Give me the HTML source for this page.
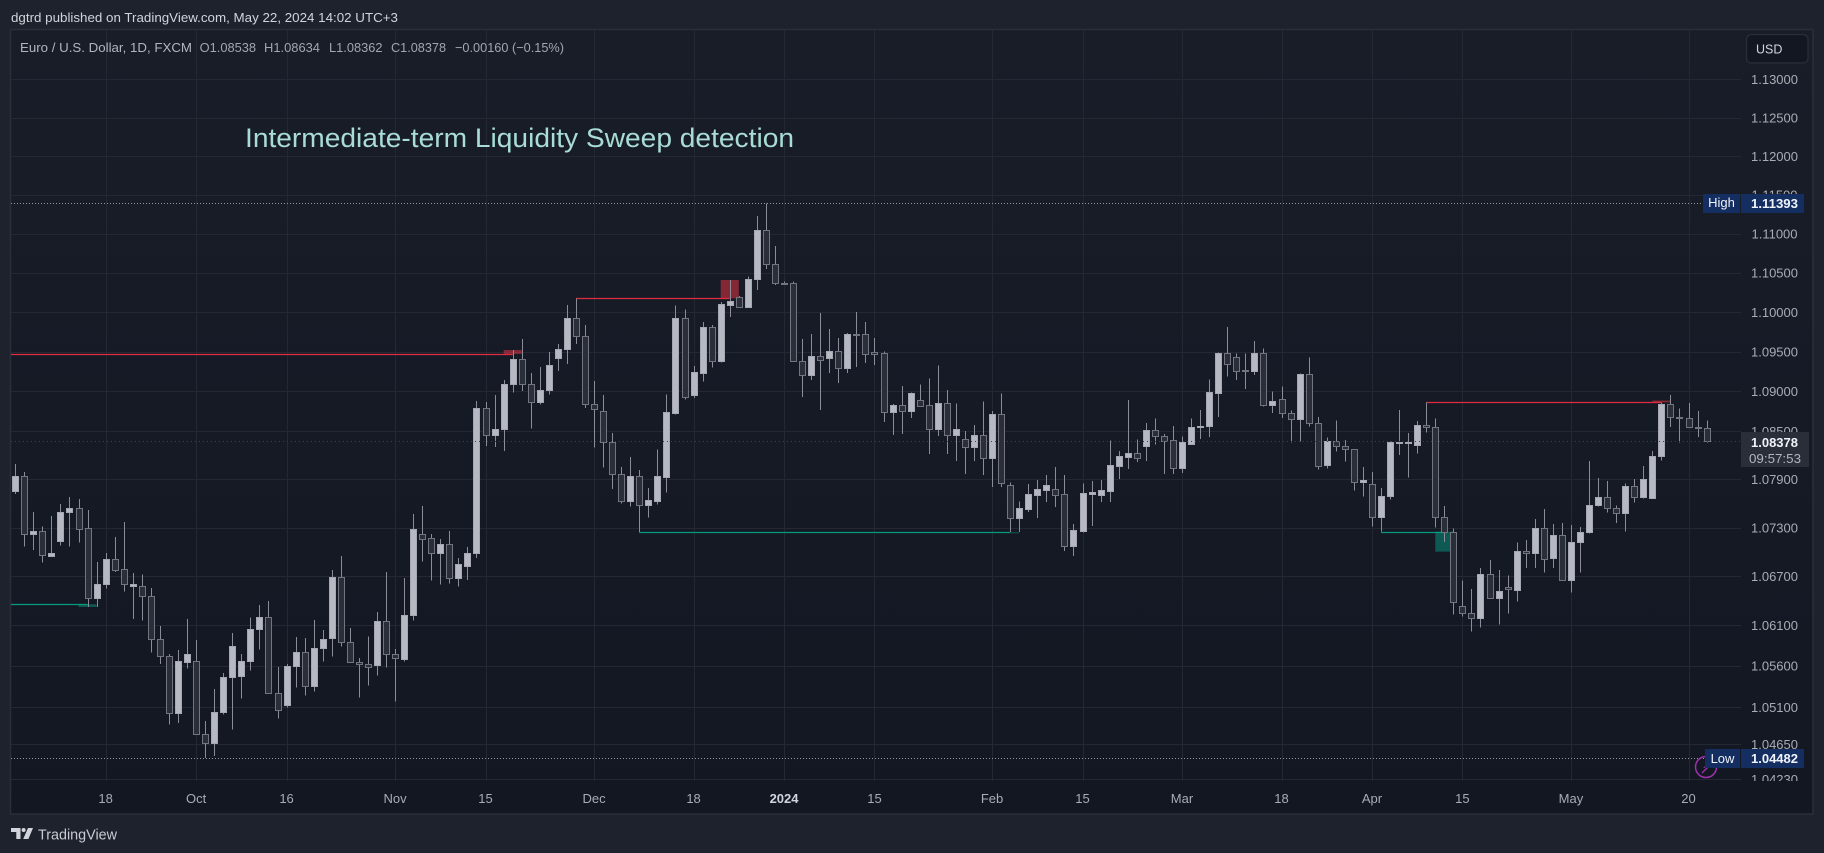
<!DOCTYPE html>
<html lang="en">
<head>
<meta charset="utf-8">
<title>EURUSD 1D - Intermediate-term Liquidity Sweep detection</title>
<style>
html,body{margin:0;padding:0;background:#1e222d;width:1824px;height:853px;overflow:hidden}
svg{display:block}
text{font-family:"Liberation Sans",sans-serif}
</style>
</head>
<body>
<svg id="chart" xmlns="http://www.w3.org/2000/svg" width="1824" height="853" viewBox="0 0 1824 853">
  <defs>
    <linearGradient id="paneBg" x1="0" y1="0" x2="0" y2="1">
      <stop offset="0" stop-color="#191d28"/>
      <stop offset="1" stop-color="#131722"/>
    </linearGradient>
    <clipPath id="paneClip"><rect x="11" y="30" width="1730" height="751"/></clipPath>
    <clipPath id="axisClip"><rect x="1741" y="30" width="72" height="751"/></clipPath>
  </defs>
  <rect x="0" y="0" width="1824" height="853" fill="#1e222d"/>
  <text x="11" y="22" font-size="13" fill="#d1d4dc" textLength="387" lengthAdjust="spacingAndGlyphs">dgtrd published on TradingView.com, May 22, 2024 14:02 UTC+3</text>
  <rect x="10.5" y="29.5" width="1802.5" height="784.5" fill="url(#paneBg)" stroke="#2a2e39" stroke-width="1.5"/>
  <g id="grid" clip-path="url(#paneClip)"></g>
  <g id="zones" clip-path="url(#paneClip)"></g>
  <g id="levels" clip-path="url(#paneClip)"></g>
  <g id="candles" clip-path="url(#paneClip)"></g>
  <g id="priceLines"></g>
  <g id="yAxis" clip-path="url(#axisClip)"></g>
  <g id="xAxis"></g>

  <g font-size="13">
    <text x="20" y="52" fill="#b2b5be" textLength="172" lengthAdjust="spacingAndGlyphs">Euro / U.S. Dollar, 1D, FXCM</text>
    <text x="199.6" y="52" fill="#a3a6af" textLength="56.5" lengthAdjust="spacingAndGlyphs">O1.08538</text>
    <text x="264" y="52" fill="#a3a6af" textLength="56" lengthAdjust="spacingAndGlyphs">H1.08634</text>
    <text x="329" y="52" fill="#a3a6af" textLength="53.5" lengthAdjust="spacingAndGlyphs">L1.08362</text>
    <text x="391" y="52" fill="#a3a6af" textLength="55" lengthAdjust="spacingAndGlyphs">C1.08378</text>
    <text x="455" y="52" fill="#a3a6af" textLength="109" lengthAdjust="spacingAndGlyphs">−0.00160 (−0.15%)</text>
  </g>

  <text x="245" y="147" font-size="26.5" fill="#a8dcd5" textLength="549" lengthAdjust="spacingAndGlyphs">Intermediate-term Liquidity Sweep detection</text>

  <g>
    <rect x="1746.5" y="34.5" width="61.5" height="28.5" rx="5" fill="#131722" stroke="#2a2e39" stroke-width="1.2"/>
    <text x="1756" y="53.5" font-size="12.5" fill="#d1d4dc">USD</text>
  </g>

  <g fill="none" stroke="#a030b0">
    <circle cx="1706" cy="767" r="10.5" stroke-width="1.5"/>
    <path d="M1710 763 L1705 767 L1708 767 L1702 773" stroke-width="1.4"/>
  </g>

  <g>
    <rect x="1703" y="194" width="37" height="19" fill="#142e61"/>
    <text x="1721.5" y="207" font-size="13" fill="#f0f3fa" text-anchor="middle">High</text>
    <rect x="1741" y="194" width="63" height="19" fill="#142e61"/>
    <text x="1774.5" y="208" font-size="13" font-weight="bold" fill="#f0f3fa" text-anchor="middle" textLength="47" lengthAdjust="spacingAndGlyphs">1.11393</text>
  </g>
  <g>
    <rect x="1705" y="749" width="35" height="19" fill="#142e61"/>
    <text x="1722.5" y="763" font-size="13" fill="#f0f3fa" text-anchor="middle">Low</text>
    <rect x="1741" y="749" width="63" height="19" fill="#142e61"/>
    <text x="1774.5" y="763" font-size="13" font-weight="bold" fill="#f0f3fa" text-anchor="middle" textLength="47" lengthAdjust="spacingAndGlyphs">1.04482</text>
  </g>
  <g>
    <rect x="1741" y="432" width="68" height="35" fill="#2a2e39"/>
    <text x="1774.5" y="447" font-size="13" font-weight="bold" fill="#f0f3fa" text-anchor="middle" textLength="47" lengthAdjust="spacingAndGlyphs">1.08378</text>
    <text x="1775" y="463" font-size="13" fill="#b2b5be" text-anchor="middle" textLength="52" lengthAdjust="spacingAndGlyphs">09:57:53</text>
  </g>

  <g>
    <path fill="#d1d4dc" d="M11 828h9.5v11h-4.2v-7H11z"/>
    <circle cx="23.6" cy="830" r="2" fill="#d1d4dc"/>
    <path fill="#d1d4dc" d="M28 828h5l-4.6 11h-5.2z"/>
    <text x="38" y="839.5" font-size="15" fill="#c8cbd3" textLength="79" lengthAdjust="spacingAndGlyphs">TradingView</text>
  </g>
</svg>
<script>
// --- Data -------------------------------------------------------------
const opens = [1.07759,1.07938,1.07218,1.07262,1.06954,1.07139,1.07498,1.07540,1.07292,1.06429,
1.06601,1.06910,1.06787,1.06576,1.06576,1.06453,1.05926,1.05719,1.05026,1.05653,
1.05658,1.04772,1.04663,1.05038,1.05464,1.05483,1.05658,1.06050,1.06196,1.05276,
1.05130,1.05597,1.05768,1.05362,1.05817,1.05946,1.06688,1.05890,1.05653,1.05622,
1.05617,1.06147,1.05743,1.05690,1.06221,1.07218,1.07169,1.06991,1.07094,1.06675,
1.06831,1.06983,1.08788,1.08458,1.08526,1.09090,1.09405,1.09098,1.08871,1.09014,
1.09425,1.09531,1.09924,1.09696,1.08846,1.08751,1.08362,1.07963,1.07634,1.07938,
1.07585,1.07634,1.07933,1.08733,1.09924,1.08959,1.09236,1.09810,1.09387,1.10097,
1.10190,1.10071,1.10420,1.11047,1.10611,1.10377,1.10369,1.09387,1.09211,1.09442,
1.09425,1.09506,1.09299,1.09725,1.09721,1.09493,1.09480,1.08746,1.08826,1.08758,
1.08888,1.08826,1.08533,1.08851,1.08458,1.08400,1.08307,1.08450,1.08170,1.08713,
1.07826,1.07424,1.07536,1.07710,1.07773,1.07777,1.07714,1.07077,1.07263,1.07722,
1.07710,1.07760,1.08071,1.08183,1.08225,1.08320,1.08513,1.08437,1.08387,1.08046,
1.08345,1.08555,1.08563,1.08984,1.09480,1.09430,1.09270,1.09261,1.09480,1.08826,
1.08901,1.08726,1.08651,1.09216,1.08601,1.08075,1.08375,1.08312,1.08275,1.07863,
1.07838,1.07429,1.07689,1.08357,1.08357,1.08332,1.08583,1.08559,1.07429,1.07250,
1.06331,1.06245,1.06184,1.06725,1.06429,1.06564,1.06535,1.07008,1.06983,1.07292,
1.06922,1.07206,1.06650,1.07120,1.07250,1.07577,1.07677,1.07540,1.07478,1.07814,
1.07677,1.07672,1.08187,1.08838,1.08679,1.08663,1.08559,1.08538];
const highs = [1.08091,1.07992,1.07494,1.07317,1.07444,1.07593,1.07680,1.07655,1.07519,1.06876,
1.06987,1.07185,1.07370,1.06741,1.06719,1.06556,1.06090,1.05747,1.05796,1.06175,
1.05918,1.04933,1.05321,1.05515,1.06004,1.05747,1.06196,1.06347,1.06396,1.05589,
1.05622,1.05955,1.05942,1.06163,1.06041,1.06774,1.06950,1.06065,1.05698,1.05963,
1.06261,1.06753,1.05808,1.06679,1.07469,1.07569,1.07222,1.07160,1.07259,1.06922,
1.07061,1.08879,1.08867,1.08955,1.09144,1.09522,1.09662,1.09232,1.09308,1.09497,
1.09598,1.10092,1.10178,1.09840,1.09131,1.08955,1.08479,1.08054,1.08178,1.08017,
1.07789,1.08275,1.08964,1.10089,1.10038,1.09320,1.09874,1.09836,1.10131,1.10411,
1.10207,1.10458,1.11230,1.11393,1.10845,1.10390,1.10394,1.09662,1.09725,1.09990,
1.09789,1.09674,1.09738,1.10004,1.09874,1.09674,1.09506,1.08842,1.09068,1.08985,
1.09090,1.09165,1.09329,1.09018,1.08851,1.08504,1.08576,1.08876,1.08751,1.08976,
1.07863,1.07627,1.07842,1.07892,1.07955,1.08054,1.07955,1.07342,1.07851,1.07880,
1.07892,1.08387,1.08254,1.08892,1.08400,1.08601,1.08663,1.08463,1.08563,1.08437,
1.08663,1.08767,1.09153,1.09488,1.09814,1.09480,1.09480,1.09636,1.09544,1.09002,
1.09064,1.08763,1.09228,1.09430,1.08679,1.08425,1.08638,1.08391,1.08279,1.08054,
1.07992,1.07793,1.08370,1.08767,1.08476,1.08630,1.08863,1.08663,1.07569,1.07291,
1.06650,1.06543,1.06799,1.06901,1.06778,1.06712,1.07115,1.07148,1.07407,1.07531,
1.07345,1.07358,1.07333,1.07308,1.08129,1.07917,1.07880,1.07577,1.07851,1.07904,
1.08066,1.08254,1.08863,1.08955,1.08788,1.08855,1.08755,1.08634];
const lows = [1.07718,1.07065,1.07024,1.06868,1.06938,1.07078,1.07065,1.07115,1.06322,1.06322,
1.06547,1.06753,1.06510,1.06175,1.06154,1.05763,1.05625,1.04888,1.04909,1.05568,
1.04760,1.04482,1.04509,1.05009,1.04828,1.05203,1.05543,1.05800,1.05264,1.04961,
1.05094,1.05337,1.05239,1.05288,1.05653,1.05714,1.05836,1.05646,1.05215,1.05362,
1.05483,1.05580,1.05166,1.05653,1.06154,1.06881,1.06645,1.06596,1.06608,1.06571,
1.06654,1.06926,1.08316,1.08304,1.08254,1.08984,1.09005,1.08533,1.08833,1.08959,
1.09257,1.09346,1.09598,1.08792,1.08295,1.08046,1.07780,1.07597,1.07560,1.07243,
1.07424,1.07585,1.07734,1.08708,1.08896,1.08917,1.09123,1.09299,1.09362,1.09941,
1.10054,1.10067,1.10284,1.10552,1.10347,1.10355,1.09380,1.08930,1.09144,1.08767,
1.09232,1.09106,1.09232,1.09308,1.09358,1.09333,1.08617,1.08454,1.08466,1.08667,
1.08804,1.08216,1.08441,1.08216,1.08129,1.07967,1.08129,1.07955,1.07805,1.07805,
1.07243,1.07243,1.07494,1.07420,1.07618,1.07556,1.07012,1.06950,1.07238,1.07321,
1.07618,1.07618,1.07904,1.08029,1.08116,1.08129,1.08332,1.07967,1.07967,1.07979,
1.08341,1.08404,1.08429,1.08679,1.09186,1.09144,1.09031,1.09207,1.08809,1.08730,
1.08667,1.08357,1.08370,1.08559,1.08021,1.08033,1.08245,1.08120,1.07759,1.07684,
1.07312,1.07250,1.07652,1.08204,1.07921,1.08220,1.08483,1.07300,1.07120,1.06228,
1.06204,1.06020,1.06069,1.06425,1.06106,1.06241,1.06387,1.06799,1.06799,1.06745,
1.06799,1.06645,1.06497,1.06745,1.07225,1.07565,1.07490,1.07358,1.07250,1.07614,
1.07664,1.07672,1.08132,1.08554,1.08357,1.08546,1.08429,1.08362];
const closes = [1.07938,1.07218,1.07262,1.06959,1.06983,1.07498,1.07540,1.07287,1.06429,1.06601,
1.06910,1.06782,1.06601,1.06601,1.06453,1.05926,1.05719,1.05026,1.05658,1.05743,
1.04772,1.04663,1.05038,1.05464,1.05841,1.05658,1.06050,1.06196,1.05276,1.05062,
1.05597,1.05768,1.05362,1.05817,1.05926,1.06688,1.05890,1.05653,1.05622,1.05585,
1.06147,1.05743,1.05695,1.06221,1.07280,1.07164,1.06991,1.07094,1.06675,1.06848,
1.06983,1.08788,1.08458,1.08526,1.09090,1.09405,1.09098,1.08871,1.09014,1.09329,
1.09531,1.09924,1.09696,1.08846,1.08783,1.08362,1.07963,1.07634,1.07938,1.07585,
1.07639,1.07938,1.08738,1.09924,1.08934,1.09241,1.09810,1.09387,1.10101,1.10139,
1.10071,1.10420,1.11047,1.10611,1.10377,1.10364,1.09387,1.09211,1.09442,1.09400,
1.09506,1.09299,1.09721,1.09717,1.09475,1.09475,1.08746,1.08826,1.08758,1.08976,
1.08821,1.08533,1.08851,1.08458,1.08526,1.08307,1.08450,1.08170,1.08713,1.07859,
1.07424,1.07540,1.07714,1.07777,1.07826,1.07710,1.07077,1.07267,1.07727,1.07739,
1.07764,1.08075,1.08187,1.08225,1.08170,1.08513,1.08437,1.08382,1.08046,1.08370,
1.08550,1.08567,1.08989,1.09480,1.09342,1.09254,1.09261,1.09480,1.08826,1.08876,
1.08726,1.08651,1.09216,1.08601,1.08062,1.08375,1.08312,1.08275,1.07863,1.07888,
1.07429,1.07689,1.08362,1.08366,1.08366,1.08583,1.08559,1.07429,1.07250,1.06380,
1.06245,1.06184,1.06725,1.06429,1.06515,1.06540,1.07008,1.06983,1.07292,1.06910,
1.07206,1.06650,1.07120,1.07250,1.07577,1.07677,1.07540,1.07478,1.07814,1.07677,
1.07900,1.08187,1.08838,1.08676,1.08671,1.08559,1.08538,1.08378];

const priceTicks = [1.13,1.125,1.12,1.115,1.11,1.105,1.10,1.095,1.09,1.085,1.079,1.073,1.067,1.061,1.056,1.051,1.0465,1.0423];
const timeTickBars = [10,20,30,42,52,64,75,85,95,108,118,129,140,150,160,172,185];
const timeTickLabels = ['18','Oct','16','Nov','15','Dec','18','2024','15','Feb','15','Mar','18','Apr','15','May','20'];

const levelStartBars = [-2,62,156,-2,69,151];
const levelEndBars = [55,79,182,8,110,158];
const levelPrices = [1.09473,1.10178,1.08863,1.06355,1.07243,1.07250];
const levelKinds = ['bear','bear','bear','bull','bull','bull'];

const zoneStartBars = [54,78,181,7,110,157];
const zoneEndBars = [56,80,183,9,111,159];
const zoneTopPrices = [1.09522,1.10411,1.08885,1.06355,1.07243,1.07250];
const zoneBottomPrices = [1.09473,1.10178,1.08863,1.06322,1.07230,1.07003];
const zoneKinds = ['bear','bear','bear','bull','bull','bull'];

const highPrice = 1.11393;
const lowPrice = 1.04482;
const lastPrice = 1.08378;

// --- Axis functions ---------------------------------------------------
const X_ORIGIN = 15.2, BAR_STEP = 9.045;
const Y_ANCHOR = 312.3, Y_ANCHOR_PRICE = 1.10, Y_K = 8665;
function xScale(bar){ return X_ORIGIN + BAR_STEP * bar; }
function yScale(price){ return Y_ANCHOR + Y_K * Math.log(Y_ANCHOR_PRICE / price); }

const NS = 'http://www.w3.org/2000/svg';
function make(tag, attrs, parent){
  const el = document.createElementNS(NS, tag);
  for (const k in attrs) el.setAttribute(k, attrs[k]);
  parent.appendChild(el);
  return el;
}
const gridG = document.getElementById('grid');
const yAxisG = document.getElementById('yAxis');
const xAxisG = document.getElementById('xAxis');
const zonesG = document.getElementById('zones');
const levelsG = document.getElementById('levels');
const candlesG = document.getElementById('candles');
const priceLinesG = document.getElementById('priceLines');

// --- Grid and axes ----------------------------------------------------
priceTicks.forEach(function(p){
  const y = Math.round(yScale(p)) + 0.5;
  const line = make('line', {x1:11, x2:1741, y1:y, y2:y, stroke:'#242833', 'stroke-width':1}, gridG);
  
  
  const label = make('text', {x:1774.5, y:yScale(p)+4.7, 'font-size':13, fill:'#a9acb5', 'text-anchor':'middle'}, yAxisG);
  
  
  label.textContent = p.toFixed(5);
});
timeTickBars.forEach(function(b, i){
  const x = Math.round(xScale(b)) + 0.5;
  const line = make('line', {x1:x, x2:x, y1:30, y2:781, stroke:'#242833', 'stroke-width':1}, gridG);
  
  
  const isYear = timeTickLabels[i].length === 4;
  const label = make('text', {x:xScale(b), y:803, 'font-size':13, fill:isYear ? '#d1d4dc' : '#a9acb5', 'font-weight':isYear ? 'bold' : 'normal', 'text-anchor':'middle'}, xAxisG);
  
  
  label.textContent = timeTickLabels[i];
});

// --- Sweep zones ------------------------------------------------------
zoneStartBars.forEach(function(s, i){
  const x1 = xScale(s), x2 = xScale(zoneEndBars[i]);
  const y1 = yScale(zoneTopPrices[i]), y2 = yScale(zoneBottomPrices[i]);
  const rect = make('rect', {x:x1, y:y1, width:x2-x1, height:Math.max(y2-y1,1), fill:zoneKinds[i]==='bear' ? '#f23645' : '#089981', 'fill-opacity':0.5}, zonesG);
  
  
});

// --- Liquidity levels -------------------------------------------------
levelStartBars.forEach(function(s, i){
  const y = Math.round(yScale(levelPrices[i])) + 0.5;
  const line = make('line', {x1:xScale(s), x2:xScale(levelEndBars[i]), y1:y, y2:y, stroke:levelKinds[i]==='bear' ? '#de2c42' : '#089981', 'stroke-width':1.2}, levelsG);
  
  
});

// --- Candles ----------------------------------------------------------
opens.forEach(function(o, i){
  const c = closes[i], h = highs[i], l = lows[i];
  const up = c >= o;
  const cx = Math.round(xScale(i));
  const yH = yScale(h), yL = yScale(l);
  const top = Math.round(yScale(Math.max(o, c)));
  const bot = Math.max(Math.round(yScale(Math.min(o, c))), top + 1);
  const g = make('g', {'shape-rendering':'crispEdges'}, candlesG);
  
  
  const wick = make('rect', {x:cx, y:yH, width:1, height:Math.max(yL-yH,1), fill:'#8a8d97'}, g);
  
  
  const border = make('rect', {x:cx-3, y:top, width:7, height:bot-top+1, fill:up ? '#a5a8b2' : '#72757f'}, g);
  
  
  if (bot - top >= 2){
    const fill = make('rect', {x:cx-2, y:top+1, width:5, height:bot-top-1, fill:up ? '#b6b9c2' : '#2a2e39'}, g);
    
    
  }
});

// --- High / low / last price lines ------------------------------------
const hy = Math.round(yScale(highPrice)) + 0.5;
const highLine = make('line', {x1:11, x2:1703, y1:hy, y2:hy, stroke:'#9598a1', 'stroke-width':1, 'stroke-dasharray':'1 2'}, priceLinesG);


const ly = Math.round(yScale(lowPrice)) + 0.5;
const lowLine = make('line', {x1:11, x2:1705, y1:ly, y2:ly, stroke:'#9598a1', 'stroke-width':1, 'stroke-dasharray':'1 2'}, priceLinesG);


const cy = Math.round(yScale(lastPrice)) + 0.5;
const lastLine = make('line', {x1:11, x2:1741, y1:cy, y2:cy, stroke:'#3c404c', 'stroke-width':1, 'stroke-dasharray':'1 3'}, priceLinesG);


</script>
</body>
</html>
